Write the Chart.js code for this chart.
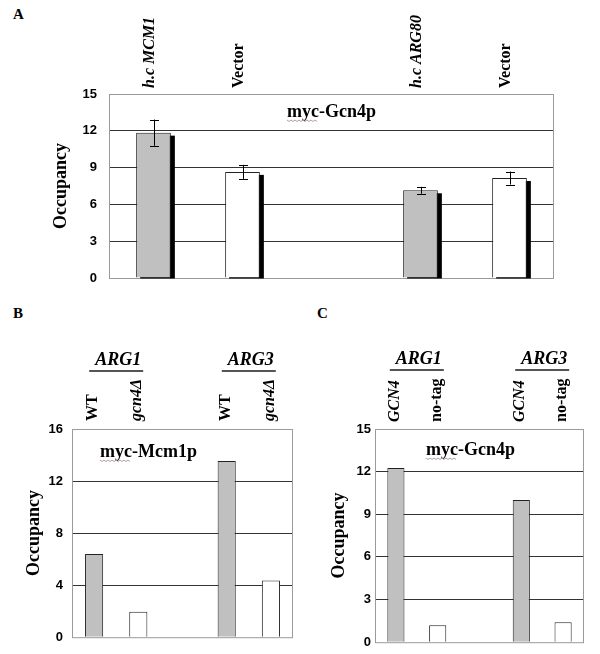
<!DOCTYPE html>
<html>
<head>
<meta charset="utf-8">
<script src="https://cdn.jsdelivr.net/npm/chart.js@4"></script>
<style>
  body { margin: 0; background: #fff; }
  #wrap { position: relative; width: 600px; height: 654px; }
  canvas { position: absolute; }
  .tag { position: absolute; font: bold 15px "Liberation Serif", serif; line-height: 15px; }
</style>
</head>
<body>
<div id="wrap">
  <div class="tag" style="left:13px;top:7px">A</div>
  <div class="tag" style="left:13px;top:306px">B</div>
  <div class="tag" style="left:317px;top:306px">C</div>
  <canvas id="chartA" width="600" height="300" style="left:0;top:0"></canvas>
  <canvas id="chartB" width="300" height="354" style="left:0;top:300px"></canvas>
  <canvas id="chartC" width="300" height="354" style="left:300px;top:300px"></canvas>
</div>
<script>
// Panel A: myc-Gcn4p occupancy with high-copy plasmids
const catsA = ['h.c MCM1', 'Vector', '', 'h.c ARG80', 'Vector'];
const occA = [11.85, 8.65, null, 7.15, 8.15];
const errA = [1.07, 0.57, null, 0.28, 0.53];

// Panel B: myc-Mcm1p occupancy
const catsB = ['WT', 'gcn4Δ', '', 'WT', 'gcn4Δ'];
const occB = [6.4, 1.95, null, 13.55, 4.35];

// Panel C: myc-Gcn4p occupancy
const catsC = ['GCN4', 'no-tag', '', 'GCN4', 'no-tag'];
const occC = [12.25, 1.2, null, 10.0, 1.4];

// promoter groups used in B and C
const groupNames = ['ARG1', 'ARG3'];
const groupMembers = [[0, 1], [3, 4]];

const serif = '"Liberation Serif", "Times New Roman", serif';
const sans = '"Liberation Sans", Arial, sans-serif';

// box, shadows, error bars, category labels, inside title and group labels
const panelPlugin = {
  id: 'panel',
  beforeDatasetsDraw(chart, args, o) {
    const { ctx, chartArea: a } = chart;
    const vals = chart.data.datasets[0].data;
    ctx.save();
    ctx.strokeStyle = '#9a9a9a';
    ctx.lineWidth = 1;
    ctx.strokeRect(a.left + 0.5, a.top + 0.5, a.right - a.left - 1, a.bottom - a.top);
    if (o.shadow) {
      ctx.fillStyle = '#000';
      chart.getDatasetMeta(0).data.forEach((b, i) => {
        if (vals[i] == null) return;
        ctx.fillRect(b.x - b.width / 2 + 4, b.y + 3, b.width, b.base - b.y - 2);
      });
    }
    ctx.restore();
  },
  afterDatasetsDraw(chart, args, o) {
    if (!o.errors) return;
    const { ctx } = chart;
    const y = chart.scales.y;
    const vals = chart.data.datasets[0].data;
    ctx.save();
    ctx.strokeStyle = '#000';
    ctx.lineWidth = 1;
    chart.getDatasetMeta(0).data.forEach((b, i) => {
      if (vals[i] == null) return;
      const top = y.getPixelForValue(vals[i] + o.errors[i]);
      const bot = y.getPixelForValue(vals[i] - o.errors[i]);
      const x = Math.round(b.x) + 0.5;
      ctx.beginPath();
      ctx.moveTo(x, top); ctx.lineTo(x, bot);
      ctx.moveTo(x - 4.5, Math.round(top) + 0.5); ctx.lineTo(x + 4.5, Math.round(top) + 0.5);
      ctx.moveTo(x - 4.5, Math.round(bot) + 0.5); ctx.lineTo(x + 4.5, Math.round(bot) + 0.5);
      ctx.stroke();
    });
    ctx.restore();
  },
  afterDraw(chart, args, o) {
    const { ctx, chartArea: a } = chart;
    const x = chart.scales.x;
    ctx.save();
    ctx.fillStyle = '#000';

    // vertical category labels above the plot
    chart.data.labels.forEach((lab, i) => {
      if (!lab) return;
      const style = o.italic.includes(lab) ? 'italic ' : '';
      ctx.save();
      ctx.translate(x.getPixelForValue(i) + o.labelDx, a.top - o.labelGap);
      ctx.rotate(-Math.PI / 2);
      ctx.font = style + 'bold ' + o.labelSize + 'px ' + serif;
      ctx.textAlign = 'left';
      ctx.textBaseline = 'middle';
      ctx.fillText(lab, 0, 0);
      ctx.restore();
    });

    // protein name inside the plot, with the faint spell-check squiggle under "myc"
    ctx.font = 'bold 18px ' + serif;
    ctx.textBaseline = 'alphabetic';
    ctx.textAlign = 'left';
    const tw = ctx.measureText(o.title).width;
    const tx = o.titleCenter ? (a.left + a.right) / 2 - tw / 2 : a.left + o.titleDx;
    const ty = a.top + o.titleDy;
    ctx.fillText(o.title, tx, ty);
    const mw = ctx.measureText('myc').width;
    ctx.strokeStyle = '#b0a0a0';
    ctx.lineWidth = 1;
    ctx.beginPath();
    for (let k = 0; k <= mw; k += 2) {
      const yy = ty + 3 + (k % 4 === 0 ? 0 : 1.5);
      if (k === 0) ctx.moveTo(tx + k, yy); else ctx.lineTo(tx + k, yy);
    }
    ctx.stroke();

    if (o.groupY) {
      ctx.fillStyle = '#000';
      ctx.font = 'italic bold 18px ' + serif;
      ctx.textAlign = 'center';
      ctx.strokeStyle = '#555';
      ctx.lineWidth = 2;
      groupNames.forEach((name, g) => {
        const m = groupMembers[g];
        const cx = (x.getPixelForValue(m[0]) + x.getPixelForValue(m[1])) / 2;
        ctx.fillText(name, cx + 2, o.groupY);
        ctx.beginPath();
        ctx.moveTo(cx - 27, o.groupY + 6);
        ctx.lineTo(cx + 27, o.groupY + 6);
        ctx.stroke();
      });
    }
    ctx.restore();
  }
};

function makePanel(id, labels, values, p) {
  return new Chart(document.getElementById(id), {
    type: 'bar',
    data: {
      labels: labels,
      datasets: [{
        data: values,
        backgroundColor: c => (c.dataIndex % 3 === 0 ? '#c0c0c0' : '#ffffff'),
        borderColor: '#222',
        borderWidth: 1,
        barPercentage: p.barPct,
        categoryPercentage: 1
      }]
    },
    options: {
      responsive: false,
      animation: false,
      layout: { padding: p.pad },
      plugins: {
        legend: { display: false },
        tooltip: { enabled: false },
        panel: p.panel
      },
      scales: {
        x: {
          position: 'top',
          grid: { display: false },
          border: { display: false },
          ticks: { display: false },
          afterFit: s => { s.height = p.xH; }
        },
        y: {
          min: 0,
          max: p.max,
          afterFit: s => { s.width = p.yW; },
          border: { display: false },
          grid: {
            drawTicks: false,
            color: c => (c.tick.value === 0 || c.tick.value === p.max ? 'rgba(0,0,0,0)' : '#333')
          },
          ticks: {
            stepSize: p.step,
            padding: p.yPad,
            color: '#000',
            font: { family: sans, size: 13, weight: 'bold' }
          },
          title: {
            display: true,
            text: 'Occupancy',
            padding: 0,
            color: '#000',
            font: { family: serif, size: 18, weight: 'bold' }
          }
        }
      }
    },
    plugins: [panelPlugin]
  });
}

makePanel('chartA', catsA, occA, {
  pad: { left: 51, right: 46, top: 10, bottom: 22 },
  yW: 58, xH: 84, yPad: 12,
  barPct: 0.39, max: 15, step: 3,
  panel: {
    shadow: true, errors: errA, title: 'myc-Gcn4p', titleCenter: true, titleDy: 23,
    italic: ['h.c MCM1', 'h.c ARG80'], labelSize: 16, labelDx: -4, labelGap: 6
  }
});

makePanel('chartB', catsB, occB, {
  pad: { left: 24, right: 7, top: 20, bottom: 10 },
  yW: 48, xH: 109, yPad: 9,
  barPct: 0.41, max: 16, step: 4,
  panel: {
    title: 'myc-Mcm1p', titleDx: 28, titleDy: 28, groupY: 65,
    italic: ['gcn4Δ'], labelSize: 16, labelDx: -1, labelGap: 8
  }
});

makePanel('chartC', catsC, occC, {
  pad: { left: 29, right: 16, top: 20, bottom: 11 },
  yW: 46, xH: 109, yPad: 4,
  barPct: 0.41, max: 15, step: 3,
  panel: {
    title: 'myc-Gcn4p', titleDx: 51, titleDy: 26, groupY: 64,
    italic: ['GCN4'], labelSize: 16, labelDx: -1, labelGap: 7
  }
});
</script>
</body>
</html>
